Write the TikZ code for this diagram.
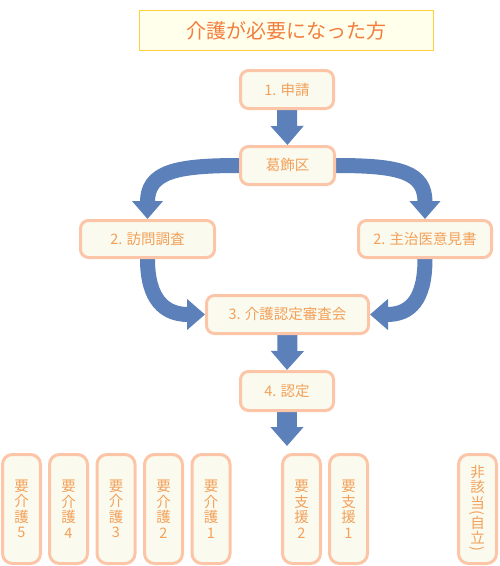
\documentclass[tikz,border=0pt]{standalone}
\usepackage{fontspec}
\newfontfamily\jpfont{Noto Sans CJK JP}
\usetikzlibrary{arrows.meta,backgrounds}
\definecolor{flowblue}{RGB}{91,128,186}
\definecolor{boxline}{RGB}{252,197,167}
\definecolor{boxfill}{RGB}{250,251,238}
\definecolor{boxtext}{RGB}{243,160,90}
\definecolor{titleline}{RGB}{253,209,59}
\definecolor{titlefill}{RGB}{255,255,236}
\definecolor{titletext}{RGB}{242,125,61}
\begin{document}
\begin{tikzpicture}[
        x=1pt,
        y=-1pt,
        titlebox/.style={
            rectangle,
            draw=titleline,
            line width=1.2pt,
            fill=titlefill,
            text=titletext,
            minimum width=294pt,
            minimum height=40pt,
            inner sep=0pt,
            font=\jpfont\fontsize{20}{24}\selectfont
        },
        stepbox/.style={
            rectangle,
            rounded corners=8pt,
            draw=boxline,
            line width=3pt,
            fill=boxfill,
            text=boxtext,
            align=center,
            minimum height=38pt,
            inner sep=0pt,
            font=\jpfont\fontsize{14.5}{16}\selectfont
        },
        levelbox/.style={
            rectangle,
            rounded corners=10pt,
            draw=boxline,
            line width=3pt,
            fill=boxfill,
            text=boxtext,
            align=center,
            minimum width=38pt,
            minimum height=109pt,
            inner sep=0pt,
            font=\jpfont\fontsize{14.5}{15.5}\selectfont
        },
        arrow/.style={-{Triangle[width=32pt,length=19pt]}, line width=20pt, draw=flowblue},
        bendarrow/.style={-{Triangle[width=30pt,length=18pt]}, line width=15pt, draw=flowblue}
    ]

        \useasboundingbox (0,0) rectangle (499,566);

        \node[titlebox] (title) at (286.5,30.5) {介護が必要になった方};

        \node[stepbox, minimum width=93pt] (shinsei) at (287,89.5) {1. 申請};
        \node[stepbox, minimum width=94pt] (katsushika) at (287.5,165.5) {葛飾区};
        \node[stepbox, minimum width=134pt, minimum height=37pt] (houmon) at (147.5,239) {2. 訪問調査};
        \node[stepbox, minimum width=133pt, minimum height=37pt] (ikensho) at (425,239) {2. 主治医意見書};
        \node[stepbox, minimum width=162pt] (shinsa) at (287.5,314.5) {3. 介護認定審査会};
        \node[stepbox, minimum width=93pt, minimum height=39pt] (nintei) at (287,391) {4. 認定};
        \coordinate (result) at (287,446);

        \node[levelbox] (kaigo5) at (21.5,509) {要\\介\\護\\5};
        \node[levelbox] (kaigo4) at (68.5,509) {要\\介\\護\\4};
        \node[levelbox] (kaigo3) at (116,509) {要\\介\\護\\3};
        \node[levelbox] (kaigo2) at (163.5,509) {要\\介\\護\\2};
        \node[levelbox] (kaigo1) at (211,509) {要\\介\\護\\1};
        \node[levelbox] (shien2) at (301.5,509) {要\\支\\援\\2};
        \node[levelbox] (shien1) at (348.5,509) {要\\支\\援\\1};
        \node[levelbox] (higaitou) at (477.5,509) {非\\該\\当\\[-6pt]\rotatebox[origin=c]{-90}{(}\\[-5pt]自\\立\\[-6pt]\rotatebox[origin=c]{-90}{)}};

        \begin{scope}[on background layer]
            \draw[arrow] (shinsei.south) -- (katsushika.north);
            \draw[bendarrow] (katsushika.west) .. controls (175,165.5) and (147.5,172) .. (houmon.north);
            \draw[bendarrow] (katsushika.east) .. controls (400,165.5) and (425,172) .. (ikensho.north);
            \draw[bendarrow] (houmon.south) .. controls (147.5,300) and (165,314.5) .. (shinsa.west);
            \draw[bendarrow] (ikensho.south) .. controls (425,300) and (410,314.5) .. (shinsa.east);
            \draw[arrow] (shinsa.south) -- (nintei.north);
            \draw[arrow] (nintei.south) -- (result);
        \end{scope}

    \end{tikzpicture}
\end{document}
